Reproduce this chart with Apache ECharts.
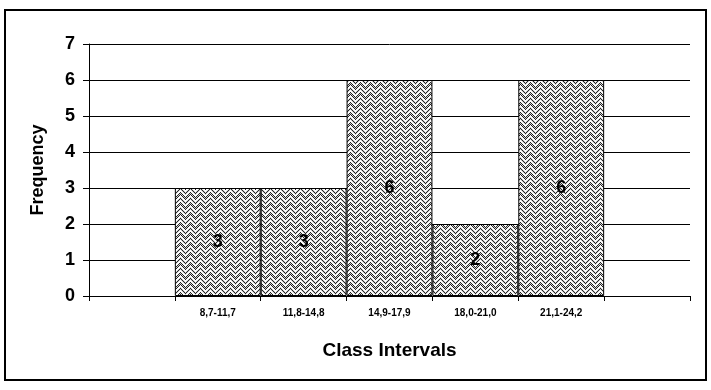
<!DOCTYPE html>
<html>
<head>
<meta charset="utf-8">
<script src="https://cdn.jsdelivr.net/npm/echarts@6/dist/echarts.min.js"></script>
<style>
  html, body { margin: 0; padding: 0; background: #fff; }
  #chart { width: 711px; height: 390px; }
</style>
</head>
<body>
<div id="chart"></div>
<script>
// categories (blank slots at both ends as in the original)
var categories = ['', '8,7-11,7', '11,8-14,8', '14,9-17,9', '18,0-21,0', '21,1-24,2', ''];
var frequency = ['-', 3, 3, 6, 2, 6, '-'];
var yTicks = [0, 7, 1]; // min, max, interval

// hatch pattern like the old spreadsheet fill
function makePattern () {
    var c = document.createElement('canvas');
    c.width = 10; c.height = 10;
    var ctx = c.getContext('2d');
    ctx.fillStyle = '#fff';
    ctx.fillRect(0, 0, 10, 10);
    for (var y = 0; y < 10; y++) {
        for (var x = 0; x < 10; x++) {
            var v = (y + Math.abs(x - 5)) % 5;
            if (v >= 2) {
                ctx.fillStyle = ((x + y) % 2 === 0) ? '#222' : '#d0d0d0';
                ctx.fillRect(x, y, 1, 1);
            }
        }
    }
    return c;
}

var chart = echarts.init(document.getElementById('chart'));
var font = 'Liberation Sans, Arial, sans-serif';

chart.setOption({
    animation: false,
    backgroundColor: '#fff',
    graphic: [{
        type: 'rect',
        shape: { x: 5, y: 10, width: 701, height: 370 },
        style: { fill: 'none', stroke: '#000', lineWidth: 2 },
        silent: true
    }],
    grid: { left: 89, right: 21, top: 44, bottom: 94 },
    xAxis: {
        type: 'category',
        data: categories,
        name: 'Class Intervals',
        nameLocation: 'middle',
        nameGap: 45,
        nameTextStyle: { fontFamily: font, fontSize: 19, fontWeight: 'bold', color: '#000' },
        axisLine: { lineStyle: { color: '#000', width: 1 } },
        axisTick: { show: true, interval: 0, length: 5, lineStyle: { color: '#000' } },
        axisLabel: { interval: 0, margin: 12, fontFamily: font, fontSize: 10, fontWeight: 'bold', color: '#000' },
        splitLine: { show: false }
    },
    yAxis: {
        type: 'value',
        min: yTicks[0],
        max: yTicks[1],
        interval: yTicks[2],
        name: 'Frequency',
        nameLocation: 'middle',
        nameGap: 42,
        nameTextStyle: { fontFamily: font, fontSize: 18, fontWeight: 'bold', color: '#000' },
        axisLine: { show: true, lineStyle: { color: '#000', width: 1 } },
        axisTick: { show: true, length: 6, lineStyle: { color: '#000' } },
        axisLabel: { margin: 14, fontFamily: font, fontSize: 18, fontWeight: 'bold', color: '#000' },
        splitLine: { show: true, lineStyle: { color: '#000', width: 1 } }
    },
    series: [{
        type: 'bar',
        data: frequency,
        barCategoryGap: 0,
        itemStyle: {
            color: { image: makePattern(), repeat: 'repeat' },
            borderColor: '#000',
            borderWidth: 1
        },
        label: {
            show: true,
            position: 'inside',
            fontFamily: font,
            fontSize: 18,
            fontWeight: 'bold',
            color: '#000'
        }
    }]
});
</script>
</body>
</html>
